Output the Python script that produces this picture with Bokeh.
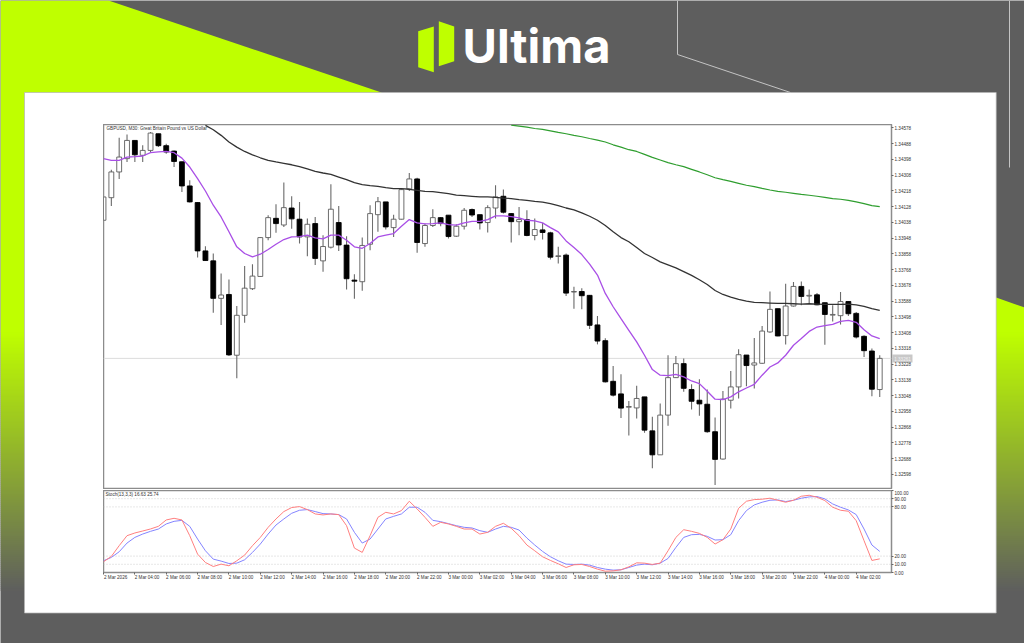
from bokeh.plotting import figure
from bokeh.layouts import column
from bokeh.models import (Range1d, LinearAxis, FixedTicker, NumeralTickFormatter, Span, Label, ColumnDataSource)
from bokeh.core.properties import value
from bokeh.embed import file_html
from bokeh.resources import INLINE

opens = [1.34050,1.34179,1.34326,1.34402,1.34506,1.34421,1.34449,1.34544,1.34476,1.34445,
1.34384,1.34246,1.34151,1.33875,1.33818,1.33604,1.33626,1.33279,1.33507,1.33659,
1.33729,1.33951,1.34061,1.34023,1.34120,1.34056,1.33955,1.34031,1.33818,1.33896,
1.34037,1.33908,1.33708,1.33699,1.33913,1.34082,1.34155,1.34008,1.34056,1.34229,
1.34286,1.33917,1.34020,1.34065,1.34079,1.33959,1.34016,1.34111,1.34082,1.34037,
1.34120,1.34187,1.34088,1.34042,1.34054,1.33963,1.33995,1.33978,1.33843,1.33851,
1.33640,1.33643,1.33621,1.33452,1.33362,1.33130,1.33058,1.32982,1.32978,1.33041,
1.32847,1.32710,1.32937,1.33151,1.33231,1.33083,1.33022,1.32999,1.32842,1.32686,
1.33022,1.33098,1.33280,1.33223,1.33233,1.33412,1.33545,1.33391,1.33560,1.33672,
1.33617,1.33624,1.33579,1.33508,1.33505,1.33586,1.33518,1.33387,1.33303,1.33083]
closes = [1.34183,1.34326,1.34411,1.34506,1.34424,1.34449,1.34548,1.34476,1.34440,1.34386,
1.34246,1.34155,1.33875,1.33820,1.33604,1.33623,1.33281,1.33507,1.33662,1.33731,
1.33951,1.34065,1.34031,1.34122,1.34058,1.33955,1.34027,1.33832,1.33900,1.34113,
1.33909,1.33716,1.33702,1.33906,1.34088,1.34156,1.34012,1.34056,1.34225,1.34286,
1.33923,1.34020,1.34065,1.34031,1.33957,1.34016,1.34107,1.34080,1.34035,1.34122,
1.34183,1.34096,1.34042,1.34054,1.33963,1.33997,1.33980,1.33839,1.33847,1.33634,
1.33643,1.33619,1.33450,1.33360,1.33127,1.33051,1.32977,1.32986,1.33032,1.32851,
1.32710,1.32937,1.33151,1.33231,1.33090,1.33016,1.33001,1.32842,1.32684,1.33028,
1.33098,1.33282,1.33220,1.33235,1.33417,1.33541,1.33389,1.33560,1.33672,1.33615,
1.33621,1.33567,1.33512,1.33512,1.33586,1.33516,1.33383,1.33305,1.33085,1.33261]
highs = [1.34183,1.34339,1.34521,1.34540,1.34506,1.34478,1.34554,1.34544,1.34487,1.34449,
1.34384,1.34278,1.34155,1.33902,1.33860,1.33746,1.33712,1.33560,1.33788,1.33799,
1.33955,1.34079,1.34141,1.34265,1.34187,1.34155,1.34060,1.34069,1.33965,1.34255,
1.34132,1.33959,1.33742,1.33951,1.34136,1.34183,1.34155,1.34082,1.34231,1.34320,
1.34293,1.34031,1.34113,1.34069,1.34079,1.34027,1.34120,1.34117,1.34082,1.34136,
1.34250,1.34225,1.34092,1.34126,1.34107,1.34060,1.34035,1.33984,1.33898,1.33860,
1.33670,1.33661,1.33623,1.33503,1.33376,1.33218,1.33170,1.33018,1.33104,1.33041,
1.32927,1.33003,1.33279,1.33275,1.33260,1.33113,1.33142,1.33083,1.32923,1.33075,
1.33189,1.33313,1.33280,1.33377,1.33446,1.33643,1.33545,1.33687,1.33697,1.33700,
1.33655,1.33634,1.33579,1.33564,1.33640,1.33588,1.33526,1.33393,1.33317,1.33279]
lows = [1.34050,1.34132,1.34286,1.34383,1.34383,1.34383,1.34440,1.34468,1.34430,1.34354,
1.34212,1.34151,1.33837,1.33818,1.33522,1.33452,1.33275,1.33148,1.33465,1.33651,
1.33727,1.33936,1.33978,1.34012,1.34001,1.33917,1.33845,1.33794,1.33756,1.33889,
1.33875,1.33655,1.33602,1.33647,1.33879,1.33984,1.33997,1.33955,1.34054,1.34217,
1.33864,1.33898,1.34012,1.34016,1.33946,1.33955,1.33997,1.34069,1.33997,1.33980,
1.34060,1.34088,1.33923,1.33965,1.33959,1.33936,1.33940,1.33826,1.33803,1.33617,
1.33545,1.33541,1.33429,1.33341,1.33123,1.33043,1.32920,1.32821,1.32918,1.32836,
1.32633,1.32709,1.32876,1.33149,1.33071,1.32969,1.32933,1.32836,1.32538,1.32684,
1.32975,1.33032,1.33102,1.33089,1.33231,1.33408,1.33387,1.33341,1.33558,1.33564,
1.33573,1.33564,1.33339,1.33472,1.33455,1.33503,1.33374,1.33269,1.33045,1.33041]

ma_purple = [1.34402,1.34392,1.34392,1.34411,1.34413,1.34417,1.34436,1.34441,1.34443,1.34436,
1.34405,1.34354,1.34288,1.34217,1.34136,1.34069,1.33984,1.33898,1.33860,1.33841,
1.33856,1.33883,1.33913,1.33940,1.33955,1.33957,1.33965,1.33949,1.33944,1.33965,
1.33965,1.33936,1.33898,1.33890,1.33917,1.33955,1.33965,1.33974,1.34016,1.34054,
1.34035,1.34029,1.34031,1.34035,1.34025,1.34022,1.34035,1.34044,1.34044,1.34054,
1.34075,1.34075,1.34071,1.34063,1.34050,1.34046,1.34035,1.34008,1.33984,1.33932,
1.33894,1.33854,1.33799,1.33737,1.33632,1.33556,
1.33488,1.33421,1.33355,1.33279,
1.33197,1.33165,1.33163,1.33170,1.33155,1.33132,1.33117,1.33073,1.33028,1.33026,
1.33041,1.33070,1.33092,1.33113,1.33165,1.33212,1.33235,1.33279,1.33336,1.33374,
1.33415,1.33440,1.33448,1.33455,1.33472,1.33478,1.33467,1.33425,1.33389,1.33374]
ma_black_start = 13
ma_black = [1.34592,1.34567,1.34535,1.34497,1.34468,1.34443,1.34424,
1.34407,1.34392,1.34383,1.34375,1.34367,1.34356,1.34343,1.34329,1.34320,1.34312,
1.34297,1.34282,1.34265,1.34253,1.34248,1.34244,1.34236,1.34231,1.34231,1.34227,
1.34221,1.34215,1.34213,1.34208,1.34202,1.34194,1.34191,1.34187,1.34183,1.34183,
1.34181,1.34177,1.34174,1.34168,1.34164,1.34158,1.34153,1.34145,1.34134,1.34120,
1.34109,1.34092,1.34073,1.34050,1.34020,1.33984,1.33951,1.33927,1.33894,1.33860,
1.33837,1.33812,1.33795,1.33778,1.33757,1.33735,1.33710,1.33683,1.33649,1.33626,
1.33611,1.33598,1.33588,1.33581,1.33579,1.33577,1.33575,1.33575,1.33573,1.33571,
1.33573,1.33571,1.33569,1.33569,1.33569,1.33571,1.33567,1.33558,1.33545,1.33535]
ma_green_start = 52
ma_green = [1.34593,1.34588,1.34582,1.34574,1.34569,1.34561,1.34552,1.34544,
1.34535,1.34527,1.34517,1.34508,1.34497,1.34481,1.34468,1.34453,1.34443,1.34426,
1.34409,1.34394,1.34379,1.34367,1.34356,1.34341,1.34326,1.34310,1.34293,1.34282,
1.34272,1.34261,1.34250,1.34242,1.34232,1.34223,1.34215,1.34210,1.34204,1.34198,
1.34193,1.34187,1.34181,1.34174,1.34170,1.34164,1.34155,1.34145,1.34134,1.34128]

stoch_main = [13.1,19.6,32.7,44.9,48.2,50.6,53.1,56.3,64.1,66.1,
64.1,44.9,22.4,12.2,7.3,10.2,8.2,14.3,21.2,32.7,
42.8,55.1,65.3,74.3,79.2,80.4,76.7,71.4,70.2,71.4,
70.6,57.1,29.8,24.5,44.9,67.3,73.4,71.4,75.5,86.9,
77.5,67.3,56.3,61.2,59.2,56.3,53.0,53.0,46.9,49.0,56.3,
60.0,53.9,44.9,33.5,26.5,19.2,14.7,10.6,6.1,
9.4,9.8,7.3,4.1,1.6,2.0,3.3,6.9,11.8,11.4,
9.8,11.4,26.5,42.8,52.2,50.2,47.7,42.8,34.7,40.0,
53.0,78.3,86.9,88.9,89.4,90.6,88.1,85.7,88.1,93.0,
94.2,91.8,87.7,79.6,75.9,74.7,63.2,38.8,14.7,16.63]
stoch_signal = [14.3,18.4,25.3,35.9,42.8,46.9,50.2,53.0,59.2,62.4,
63.6,56.3,40.8,26.5,16.3,13.9,11.0,11.4,15.5,24.5,
34.7,46.9,57.9,65.3,72.2,75.9,76.7,74.3,71.8,71.4,
70.6,65.3,49.0,35.9,40.8,53.0,65.3,68.5,71.4,79.6,
79.6,73.4,63.6,62.0,59.6,57.1,55.1,54.3,51.0,49.0,53.0,
56.3,55.1,51.8,42.0,33.5,25.7,19.2,14.3,10.2,
9.8,10.2,9.0,6.1,4.1,2.9,3.3,6.1,9.0,10.2,
9.4,11.4,17.1,30.6,42.8,46.1,46.5,44.1,39.6,40.0,
46.1,63.2,75.5,82.4,85.7,88.1,88.5,86.5,88.1,90.6,
92.2,92.6,89.8,83.6,79.6,76.3,70.6,53.0,33.5,25.74]

price_ticks = [1.32598,1.32688,1.32778,1.32868,1.32958,1.33048,1.33138,1.33228,1.33318,1.33408,1.33498,
               1.33588,1.33678,1.33768,1.33858,1.33948,1.34038,1.34128,1.34218,1.34308,1.34398,1.34488,1.34578]
stoch_ticks = [0,10,20,80,90,100]
stoch_levels = [10,20,80,90]
time_ticks = list(range(0,100,4))
time_labels = ["2 Mar 2026","2 Mar 04:00","2 Mar 06:00","2 Mar 08:00","2 Mar 10:00","2 Mar 12:00","2 Mar 14:00",
               "2 Mar 16:00","2 Mar 18:00","2 Mar 20:00","2 Mar 22:00","3 Mar 00:00","3 Mar 02:00","3 Mar 04:00",
               "3 Mar 06:00","3 Mar 08:00","3 Mar 10:00","3 Mar 12:00","3 Mar 14:00","3 Mar 16:00","3 Mar 18:00",
               "3 Mar 20:00","3 Mar 22:00","4 Mar 00:00","4 Mar 02:00"]

GRAY="#5e5e5e"; LIME="#bfff00"; FONT="Liberation Sans"
PRICE_MIN, PRICE_MAX = 1.32512, 1.34597
XMIN, XMAX = 0, 100.5

# page background
bg = figure(frame_width=1024, frame_height=643, x_range=Range1d(0,1024), y_range=Range1d(643,0),
            x_axis_type=None, y_axis_type=None, toolbar_location=None, output_backend="svg",
            min_border_left=0,min_border_right=0,min_border_top=0,min_border_bottom=0,
            outline_line_color=None, background_fill_color=GRAY, border_fill_color=GRAY)
bg.grid.visible=False
ys=list(range(330,590,2))
def mix(t):
    a=(0xbf,0xff,0x00); b=(0x5e,0x5e,0x5e)
    return "#%02x%02x%02x"%tuple(int(round(a[k]+(b[k]-a[k])*t)) for k in range(3))
cols=[mix((y-330)/260) for y in ys]
bg.patch([0,108,381,381,0],[0,0,92,331,331],color=LIME,line_color=None)
bg.patch([990,1024,1024,990],[295,307,331,331],color=LIME,line_color=None)
bg.quad(left=0,right=1024,top=ys,bottom=[y+2.5 for y in ys],fill_color=cols,line_color=None)
bg.line([677,677,790],[0,54,92],line_color="#c4c4c4",line_width=1)
bg.line([1009,1009],[0,167],line_color="#c4c4c4",line_width=1)
bg.quad(left=[24],right=[995.7],top=[92],bottom=[612.5],fill_color="white",line_color="#b4b4b4",line_width=0.7)
bg.patch([417.7,433.3,433.3,417.7],[30.7,26,71.7,66.7],color=LIME,line_color=None)
bg.patch([438.3,453.7,453.7,438.3],[20.7,26,60.7,65.7],color=LIME,line_color=None)
bg.text([462],[45],text=["Ultima"],text_font=value("Inter"),text_font_size="47px",text_font_style="bold",
        text_color="white",text_align="left",text_baseline="alphabetic")
bg.quad(left=[892],right=[912],top=[354],bottom=[362],fill_color="#c8c8c8",line_color=None)
bg.text([902],[358],text=["%.5f"%closes[-1]],text_font=value(FONT),text_font_size="4.6px",
        text_color="#f4f4f4",text_align="center",text_baseline="middle")

# price panel
idx=list(range(len(opens)))
price = figure(frame_width=788, frame_height=365, x_range=Range1d(XMIN,XMAX), y_range=Range1d(PRICE_MIN,PRICE_MAX),
               y_axis_location="right", x_axis_location=None, toolbar_location=None, output_backend="svg",
               min_border_left=0,min_border_right=0,min_border_top=0,min_border_bottom=0,
               outline_line_color="#8c8c8c", outline_line_width=1.5, background_fill_color="white", border_fill_color=None,
               margin=(-519,0,0,103))
price.grid.visible=False
ya=price.yaxis[0]
ya.ticker=FixedTicker(ticks=price_ticks)
ya.formatter=NumeralTickFormatter(format="0.00000")
ya.major_label_text_font_size="4.6px"; ya.major_label_text_font=FONT; ya.major_label_text_color="#333333"
ya.major_label_standoff=1; ya.major_tick_out=2; ya.major_tick_in=0; ya.minor_tick_out=0; ya.minor_tick_in=0
ya.axis_line_color=None; ya.major_tick_line_color="#666666"

price.add_layout(Span(location=closes[-1],dimension="width",line_color="#dcdcdc",line_width=1,level="underlay"))
colors=["white" if c>=o else "black" for o,c in zip(opens,closes)]
edges=["#5c5c5c" if c>=o else "black" for o,c in zip(opens,closes)]
src=ColumnDataSource(dict(x=idx,o=opens,h=highs,l=lows,c=closes,
    top=[max(a,b) for a,b in zip(opens,closes)],bot=[min(a,b) for a,b in zip(opens,closes)],col=colors,edge=edges))
price.segment("x","h","x","l",source=src,line_color="#6a6a6a",line_width=1.1)
price.vbar(x="x",top="top",bottom="bot",width=0.62,source=src,fill_color="col",line_color="edge",line_width=0.9)
price.line(idx,ma_purple,line_color="#a94fe6",line_width=1.3)
price.line(list(range(ma_black_start,ma_black_start+len(ma_black))),ma_black,line_color="#333333",line_width=1.3)
price.line(list(range(ma_green_start,ma_green_start+len(ma_green))),ma_green,line_color="#2f9e2f",line_width=1.2)
price.add_layout(Label(x=3,y=1.34574,x_units="screen",y_units="data",text="GBPUSD, M30: Great Britain Pound vs US Dollar",
    text_font=FONT,text_font_size="4.6px",text_color="#333333",text_baseline="middle"))

# stochastic panel
stoch = figure(frame_width=788, frame_height=82, x_range=price.x_range, y_range=Range1d(0,100),
               y_axis_location="right", x_axis_location=None, toolbar_location=None, output_backend="svg",
               min_border_left=0,min_border_right=0,min_border_top=0,min_border_bottom=0,
               outline_line_color="#8c8c8c", outline_line_width=1.5, background_fill_color="white", border_fill_color=None,
               margin=(1,0,0,103))
stoch.grid.visible=False
sa=stoch.yaxis[0]
sa.ticker=FixedTicker(ticks=stoch_ticks)
sa.formatter=NumeralTickFormatter(format="0.00")
sa.major_label_text_font_size="4.6px"; sa.major_label_text_font=FONT; sa.major_label_text_color="#333333"
sa.major_label_standoff=1; sa.major_tick_out=2; sa.major_tick_in=0; sa.minor_tick_out=0; sa.minor_tick_in=0
sa.axis_line_color=None; sa.major_tick_line_color="#666666"
for lv in stoch_levels:
    stoch.add_layout(Span(location=lv,dimension="width",line_color="#c4c4c4",line_width=0.8,line_dash="1 2",level="underlay"))
stoch.line(idx,stoch_signal,line_color="#8484ff",line_width=1)
stoch.line(idx,stoch_main,line_color="#ff7f7f",line_width=1)
stoch.add_layout(Label(x=2,y=95,x_units="screen",y_units="data",text="Stoch(13,3,3) 16.63 25.74",
    text_font=FONT,text_font_size="4.6px",text_color="#333333",text_baseline="middle"))
tick_axis=LinearAxis(ticker=FixedTicker(ticks=time_ticks),major_label_overrides={t:"" for t in time_ticks},
    major_tick_out=2,major_tick_in=0,minor_tick_out=0,minor_tick_in=0,axis_line_color=None,major_tick_line_color="#666666",
    major_label_standoff=0,major_label_text_font_size="1px")
stoch.add_layout(tick_axis,"below")
stoch.extra_x_ranges["labels"]=Range1d(XMIN-1.55,XMAX-1.55)
label_axis=LinearAxis(x_range_name="labels",ticker=FixedTicker(ticks=time_ticks),
    major_label_overrides={t:l for t,l in zip(time_ticks,time_labels)},
    major_tick_out=0,major_tick_in=0,minor_tick_out=0,minor_tick_in=0,axis_line_color=None,major_tick_line_color=None,
    major_label_standoff=0,major_label_text_font_size="4.6px",major_label_text_font=FONT,major_label_text_color="#333333")
stoch.add_layout(label_axis,"below")

root=column(bg,price,stoch,spacing=0)
open("out.html","w").write(file_html(root,INLINE))
